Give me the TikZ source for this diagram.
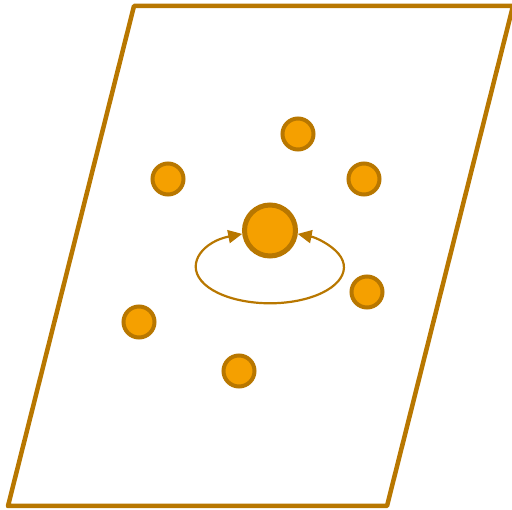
\documentclass[tikz,border=0pt]{standalone}
\usepackage{tikz}
\usetikzlibrary{arrows.meta}
\definecolor{goldline}{HTML}{B87700}
\definecolor{goldfill}{HTML}{F5A000}

\begin{document}
\begin{tikzpicture}[
  x=1pt, y=-1pt,
  planeEdge/.style={draw=goldline, line width=4.5pt, line join=round},
  hubNode/.style={circle, draw=goldline, fill=goldfill, line width=5pt, minimum size=51pt, inner sep=0pt},
  siteNode/.style={circle, draw=goldline, fill=goldfill, line width=4pt, minimum size=31pt, inner sep=0pt},
  loopArrow/.style={{Triangle[length=14pt,width=13pt]}-{Triangle[length=14pt,width=13pt]}, draw=goldline, line width=2.2pt}
]
\useasboundingbox (0,0) rectangle (512,510);

% Plane
\draw[planeEdge] (8,506) -- (134,6) -- (513,6) -- (387,506) -- cycle;

% Central site
\node[hubNode] (hub) at (270,230.5) {};

% Surrounding sites
\node[siteNode] (siteA) at (298,134) {};
\node[siteNode] (siteB) at (168,179) {};
\node[siteNode] (siteC) at (364,179) {};
\node[siteNode] (siteD) at (367,292) {};
\node[siteNode] (siteE) at (139,322) {};
\node[siteNode] (siteF) at (239,371) {};

% Self loop
\draw[loopArrow] (hub.187) arc[start angle=248, end angle=-68, x radius=74, y radius=36];

\end{tikzpicture}
\end{document}
